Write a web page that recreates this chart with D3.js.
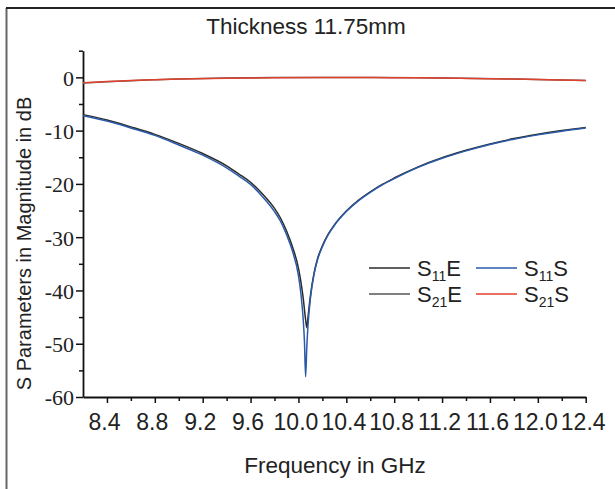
<!DOCTYPE html>
<html>
<head>
<meta charset="utf-8">
<script src="https://cdn.jsdelivr.net/npm/d3@7"></script>
<style>
  html, body { margin: 0; padding: 0; background: #fff; }
  svg { display: block; }
</style>
</head>
<body>
<script>
// ---- data ----
const freqS11S = [8.2, 8.4, 8.6, 8.8, 9.0, 9.2, 9.4, 9.5, 9.6, 9.7, 9.8, 9.85, 9.9, 9.95, 10.0, 10.02, 10.04, 10.05, 10.06, 10.07, 10.08, 10.1, 10.13, 10.16, 10.2, 10.25, 10.3, 10.4, 10.5, 10.6, 10.7, 10.8, 11.0, 11.2, 11.4, 11.6, 11.8, 12.0, 12.2, 12.4];
const valS11S  = [-7.2, -8.2, -9.5, -10.9, -12.7, -14.6, -17.0, -18.5, -20.1, -22.4, -25.2, -27.0, -29.5, -32.6, -37.2, -40.5, -45.5, -49.5, -56.2, -50.5, -46.5, -41.5, -37.0, -34.2, -31.8, -29.5, -27.8, -25.2, -23.2, -21.6, -20.2, -19.0, -16.9, -15.2, -13.8, -12.6, -11.6, -10.8, -10.1, -9.5];

const freqS11E = [8.2, 8.4, 8.6, 8.8, 9.0, 9.2, 9.4, 9.5, 9.6, 9.7, 9.8, 9.85, 9.9, 9.95, 10.0, 10.02, 10.04, 10.06, 10.07, 10.08, 10.1, 10.13, 10.16, 10.2, 10.25, 10.3, 10.4, 10.5, 10.6, 10.7, 10.8, 11.0, 11.2, 11.4, 11.6, 11.8, 12.0, 12.2, 12.4];
const valS11E  = [-7.0, -8.0, -9.3, -10.7, -12.4, -14.3, -16.6, -18.1, -19.7, -21.9, -24.6, -26.4, -28.8, -31.8, -35.8, -38.3, -41.5, -45.5, -47.0, -45.0, -41.0, -36.8, -34.0, -31.6, -29.4, -27.7, -25.1, -23.1, -21.5, -20.1, -18.9, -16.8, -15.1, -13.7, -12.5, -11.5, -10.7, -10.0, -9.4];

const freqS21 = [8.2, 8.4, 8.6, 8.8, 9.0, 9.4, 9.8, 10.2, 10.6, 11.0, 11.4, 11.8, 12.2, 12.4];
const valS21S = [-1.0, -0.8, -0.6, -0.45, -0.32, -0.15, -0.08, -0.05, -0.05, -0.1, -0.2, -0.32, -0.5, -0.6];
const valS21E = [-1.05, -0.85, -0.62, -0.45, -0.3, -0.12, -0.05, -0.02, -0.03, -0.08, -0.18, -0.3, -0.48, -0.58];

const xMajorTicks = [8.4, 8.8, 9.2, 9.6, 10.0, 10.4, 10.8, 11.2, 11.6, 12.0, 12.4];
const xMinorTicks = [8.6, 9.0, 9.4, 9.8, 10.2, 10.6, 11.0, 11.4, 11.8, 12.2];
const yMajorTicks = [0, -10, -20, -30, -40, -50, -60];
const yMinorTicks = [5, -5, -15, -25, -35, -45, -55];

const titleText = "Thickness 11.75mm";
const xTitle = "Frequency in GHz";
const yTitle = "S Parameters in Magnitude in dB";

// ---- drawing ----
const W = 615, H = 489;
const svg = d3.select("body").append("svg").attr("width", W).attr("height", H);
const sans = "'Liberation Sans', Arial, Helvetica, sans-serif";
const serif = "'Liberation Serif', 'Times New Roman', serif";

// frame (left + top)
svg.append("line").attr("x1", 6.5).attr("y1", 8).attr("x2", 6.5).attr("y2", H)
  .attr("stroke", "#666").attr("stroke-width", 2);
svg.append("line").attr("x1", 6).attr("y1", 8).attr("x2", W).attr("y2", 8)
  .attr("stroke", "#222").attr("stroke-width", 1.8);

const x = d3.scaleLinear().domain([8.2, 12.4]).range([83, 585.7]);
const y = d3.scaleLinear().domain([-60, 5]).range([397, 50.7]);

// axes
const gx = svg.append("g").attr("transform", "translate(0,397)");
gx.call(d3.axisBottom(x).tickValues(xMajorTicks).tickSize(6).tickSizeOuter(0)
  .tickFormat(d3.format(".1f")));
gx.append("g").call(d3.axisBottom(x).tickValues(xMinorTicks).tickSize(4).tickFormat(""))
  .select(".domain").remove();
gx.selectAll(".domain").attr("stroke", "#111").attr("stroke-width", 1.8);
gx.selectAll(".tick line").attr("stroke", "#111").attr("stroke-width", 1.5);
gx.selectAll(".tick text").attr("font-family", sans).attr("font-size", 23)
  .attr("fill", "#222").attr("y", 17).attr("dy", "0.71em").attr("dx", -3);

const gy = svg.append("g").attr("transform", "translate(83,0)");
gy.call(d3.axisLeft(y).tickValues(yMajorTicks).tickSize(7).tickSizeOuter(0)
  .tickFormat(d => String(d)));
gy.append("g").call(d3.axisLeft(y).tickValues(yMinorTicks).tickSize(4).tickFormat(""))
  .select(".domain").remove();
gy.selectAll(".domain").attr("stroke", "#111").attr("stroke-width", 1.8);
gy.selectAll(".tick line").attr("stroke", "#111").attr("stroke-width", 1.5);
gy.selectAll(".tick text").attr("font-family", serif).attr("font-size", 22)
  .attr("fill", "#222").attr("x", -9).attr("dy", "0.36em");

// lines
const line = d3.line().x(d => x(d[0])).y(d => y(d[1])).curve(d3.curveMonotoneX);
const series = [
  { f: freqS11E, v: valS11E, color: "#2b2b2b" },
  { f: freqS11S, v: valS11S, color: "#2a5aa8" },
  { f: freqS21,  v: valS21E, color: "#555" },
  { f: freqS21,  v: valS21S, color: "#e2412b" }
];
series.forEach(s => {
  svg.append("path").datum(s.f.map((f, i) => [f, s.v[i]]))
    .attr("d", line).attr("fill", "none").attr("stroke", s.color)
    .attr("stroke-width", 1.5).attr("stroke-linejoin", "round");
});

// titles
svg.append("text").attr("x", 306).attr("y", 34).attr("text-anchor", "middle")
  .attr("font-family", sans).attr("font-size", 22.5).attr("fill", "#222").text(titleText);
svg.append("text").attr("x", 335).attr("y", 473).attr("text-anchor", "middle")
  .attr("font-family", sans).attr("font-size", 22.5).attr("fill", "#222").text(xTitle);
svg.append("text").attr("transform", "translate(31,243.5) rotate(-90)")
  .attr("text-anchor", "middle").attr("font-family", sans).attr("font-size", 20)
  .attr("fill", "#222").text(yTitle);

// legend
const legendItems = [
  { sub: "11", suf: "E", color: "#2b2b2b", col: 0, row: 0 },
  { sub: "11", suf: "S", color: "#2a5aa8", col: 1, row: 0 },
  { sub: "21", suf: "E", color: "#555",    col: 0, row: 1 },
  { sub: "21", suf: "S", color: "#e2412b", col: 1, row: 1 }
];
legendItems.forEach(it => {
  const lx = 369 + it.col * 107, ly = 268 + it.row * 26;
  svg.append("line").attr("x1", lx).attr("x2", lx + 41).attr("y1", ly).attr("y2", ly)
    .attr("stroke", it.color).attr("stroke-width", 1.5);
  const t = svg.append("text").attr("x", lx + 48).attr("y", ly + 7.5)
    .attr("font-family", sans).attr("font-size", 22).attr("fill", "#222");
  t.append("tspan").text("S");
  t.append("tspan").attr("font-size", 14).attr("dy", 5).text(it.sub);
  t.append("tspan").attr("dy", -5).text(it.suf);
});
</script>
</body>
</html>
